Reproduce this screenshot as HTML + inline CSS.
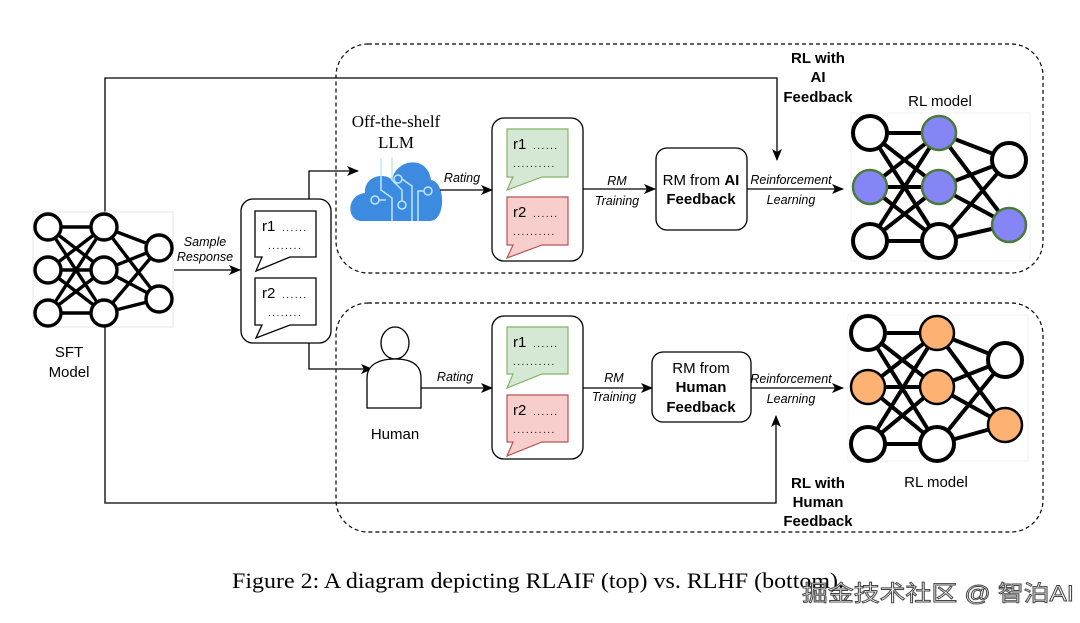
<!DOCTYPE html>
<html><head><meta charset="utf-8"><style>
html,body{margin:0;padding:0;background:#fff;}
svg{display:block;}
.s{font-family:"Liberation Sans",sans-serif;}
.i{font-family:"Liberation Sans",sans-serif;font-style:italic;font-size:12.5px;}
.d{font-family:"Liberation Sans",sans-serif;font-size:10px;letter-spacing:1.5px;}
</style></head><body>
<svg width="1080" height="623" viewBox="0 0 1080 623" xmlns="http://www.w3.org/2000/svg">
<defs>
<marker id="a" markerWidth="12" markerHeight="10" refX="11" refY="5" orient="auto" markerUnits="userSpaceOnUse"><path d="M0,0 L12,5 L0,10 L3,5 Z" fill="#000"/></marker>
</defs>
<rect x="336" y="44" width="707" height="229" rx="32" fill="none" stroke="#000" stroke-width="1.2" stroke-dasharray="4,3"/>
<rect x="336" y="303" width="707" height="229" rx="32" fill="none" stroke="#000" stroke-width="1.2" stroke-dasharray="4,3"/>

<polyline points="105,212 105,78 777,78 777,160" fill="none" stroke="#000" stroke-width="1.3" marker-end="url(#a)"/>
<polyline points="105,327 105,503 776,503 776,416" fill="none" stroke="#000" stroke-width="1.3" marker-end="url(#a)"/>

<rect x="33" y="212" width="140" height="115" fill="#fff" stroke="#e4e4e4"/>
<g stroke="#000" stroke-width="3.4" fill="none">
<line x1="48" y1="227" x2="104" y2="227"/><line x1="48" y1="227" x2="104" y2="270"/><line x1="48" y1="227" x2="104" y2="313"/>
<line x1="48" y1="270" x2="104" y2="227"/><line x1="48" y1="270" x2="104" y2="270"/><line x1="48" y1="270" x2="104" y2="313"/>
<line x1="48" y1="313" x2="104" y2="227"/><line x1="48" y1="313" x2="104" y2="270"/><line x1="48" y1="313" x2="104" y2="313"/>
<line x1="104" y1="227" x2="159" y2="248"/><line x1="104" y1="227" x2="159" y2="299"/>
<line x1="104" y1="270" x2="159" y2="248"/><line x1="104" y1="270" x2="159" y2="299"/>
<line x1="104" y1="313" x2="159" y2="248"/><line x1="104" y1="313" x2="159" y2="299"/>
</g>
<g stroke="#000" stroke-width="3.4" fill="#fff">
<circle cx="48" cy="227" r="13"/><circle cx="48" cy="270" r="13"/><circle cx="48" cy="313" r="13"/>
<circle cx="104" cy="227" r="13"/><circle cx="104" cy="270" r="13"/><circle cx="104" cy="313" r="13"/>
<circle cx="159" cy="248" r="13"/><circle cx="159" cy="299" r="13"/>
</g>
<text class="s" x="69" y="357" font-size="15" text-anchor="middle">SFT</text>
<text class="s" x="69" y="377" font-size="15" text-anchor="middle">Model</text>

<line x1="174" y1="270" x2="240" y2="270" stroke="#000" stroke-width="1.3" marker-end="url(#a)"/>
<text class="i" x="205" y="246" text-anchor="middle" font-size="12">Sample</text>
<text class="i" x="205" y="261" text-anchor="middle" font-size="12">Response</text>

<rect x="241" y="199" width="90" height="144" rx="12" fill="#fff" stroke="#000" stroke-width="1.3"/>
<path d="M255,211 H316 V257 H290 L256,271 L262,257 H255 Z" fill="#fff" stroke="#000" stroke-width="1.3"/>
<path d="M255,278 H316 V325 H290 L256,338 L262,325 H255 Z" fill="#fff" stroke="#000" stroke-width="1.3"/>
<text class="s" x="262" y="231" font-size="15">r1</text><text class="d" x="282" y="231">......</text>
<text class="d" x="268" y="249">........</text>
<text class="s" x="262" y="298" font-size="15">r2</text><text class="d" x="282" y="298">......</text>
<text class="d" x="268" y="316">........</text>
<polyline points="309,199 309,171 358,171" fill="none" stroke="#000" stroke-width="1.3" marker-end="url(#a)"/>
<polyline points="309,343 309,369 372,369" fill="none" stroke="#000" stroke-width="1.3" marker-end="url(#a)"/>

<text x="396" y="127" font-family="Liberation Serif,serif" font-size="17" text-anchor="middle">Off-the-shelf</text>
<text x="396" y="148" font-family="Liberation Serif,serif" font-size="17" text-anchor="middle">LLM</text>
<path d="M362,221 C346,221 346,195 365,193 C364,176 384,172 392,180 C396,158 428,155 431,180 C446,182 446,221 430,221 Z" fill="#3d8be0"/>
<g stroke="#bfe6ff" stroke-width="1.5" fill="none">
<polyline points="381,158 381,190 392,198 392,221"/><polyline points="392,157 392,180 402,190 402,201"/>
<circle cx="402" cy="205" r="4"/><polyline points="402,179 412,186 412,221"/>
<circle cx="398" cy="179" r="4"/><circle cx="375" cy="200" r="4"/><line x1="379" y1="200" x2="386" y2="200"/>
<circle cx="428" cy="191" r="4"/><polyline points="424,191 418,191 418,221"/>
</g>
<line x1="440" y1="190" x2="492" y2="190" stroke="#000" stroke-width="1.3" marker-end="url(#a)"/>
<text class="i" x="462" y="182" text-anchor="middle">Rating</text>

<rect x="492" y="118" width="91" height="143" rx="12" fill="#fff" stroke="#000" stroke-width="1.3"/>
<path d="M507,129 H568 V177 H542 L507,190 L513,177 H507 Z" fill="#d5e8d4" stroke="#82b366" stroke-width="1.2"/>
<path d="M507,197 H568 V245 H542 L507,258 L513,245 H507 Z" fill="#f8cecc" stroke="#b85450" stroke-width="1.2"/>
<text class="s" x="513" y="149" font-size="15">r1</text><text class="d" x="533" y="149">......</text>
<text class="d" x="513" y="167">..........</text>
<text class="s" x="513" y="217" font-size="15">r2</text><text class="d" x="533" y="217">......</text>
<text class="d" x="513" y="235">..........</text>
<line x1="583" y1="189" x2="655" y2="189" stroke="#000" stroke-width="1.3" marker-end="url(#a)"/>
<text class="i" x="617" y="185" text-anchor="middle">RM</text>
<text class="i" x="617" y="205" text-anchor="middle">Training</text>
<rect x="656" y="148" width="91" height="82" rx="11" fill="#fff" stroke="#000" stroke-width="1.3"/>
<text class="s" x="701" y="185" font-size="15" text-anchor="middle">RM from <tspan font-weight="bold">AI</tspan></text>
<text class="s" x="701" y="204" font-size="15" font-weight="bold" text-anchor="middle">Feedback</text>
<line x1="747" y1="189" x2="843" y2="189" stroke="#000" stroke-width="1.3" marker-end="url(#a)"/>
<text class="i" x="791" y="184" text-anchor="middle" font-size="11.5">Reinforcement</text>
<text class="i" x="791" y="204" text-anchor="middle" font-size="11.5">Learning</text>
<text class="s" x="818" y="63" font-size="15" font-weight="bold" text-anchor="middle">RL with</text>
<text class="s" x="818" y="82" font-size="15" font-weight="bold" text-anchor="middle">AI</text>
<text class="s" x="818" y="102" font-size="15" font-weight="bold" text-anchor="middle">Feedback</text>
<text class="s" x="940" y="106" font-size="15" text-anchor="middle">RL model</text>

<rect x="851" y="113" width="179" height="148" fill="#fff" stroke="#f2f2f2"/>
<g stroke="#000" stroke-width="4" fill="none">
<line x1="870" y1="133" x2="939" y2="133"/><line x1="870" y1="133" x2="939" y2="187"/><line x1="870" y1="133" x2="939" y2="241"/>
<line x1="870" y1="187" x2="939" y2="133"/><line x1="870" y1="187" x2="939" y2="187"/><line x1="870" y1="187" x2="939" y2="241"/>
<line x1="870" y1="241" x2="939" y2="133"/><line x1="870" y1="241" x2="939" y2="187"/><line x1="870" y1="241" x2="939" y2="241"/>
<line x1="939" y1="133" x2="1009" y2="160"/><line x1="939" y1="133" x2="1009" y2="225"/>
<line x1="939" y1="187" x2="1009" y2="160"/><line x1="939" y1="187" x2="1009" y2="225"/>
<line x1="939" y1="241" x2="1009" y2="160"/><line x1="939" y1="241" x2="1009" y2="225"/>
</g>
<g stroke="#000" stroke-width="4" fill="#fff">
<circle cx="870" cy="133" r="17"/><circle cx="870" cy="241" r="17"/><circle cx="939" cy="241" r="17"/><circle cx="1009" cy="160" r="17"/>
</g>
<g stroke="#4a7a3a" stroke-width="2.5" fill="#8585f5">
<circle cx="939" cy="133" r="17"/><circle cx="870" cy="187" r="17"/><circle cx="939" cy="187" r="17"/><circle cx="1009" cy="225" r="17"/>
</g>

<ellipse cx="395" cy="343" rx="14" ry="16" fill="#fff" stroke="#000" stroke-width="1.3"/>
<path d="M367,408 V378 C367,364 380,359 395,359 C410,359 421,364 421,378 V408 Z" fill="#fff" stroke="#000" stroke-width="1.3"/>
<text class="s" x="395" y="439" font-size="15" text-anchor="middle">Human</text>
<line x1="421" y1="388" x2="492" y2="388" stroke="#000" stroke-width="1.3" marker-end="url(#a)"/>
<text class="i" x="455" y="381" text-anchor="middle">Rating</text>

<rect x="492" y="316" width="91" height="143" rx="12" fill="#fff" stroke="#000" stroke-width="1.3"/>
<path d="M507,327 H568 V374 H542 L507,388 L513,374 H507 Z" fill="#d5e8d4" stroke="#82b366" stroke-width="1.2"/>
<path d="M507,395 H568 V442 H542 L507,456 L513,442 H507 Z" fill="#f8cecc" stroke="#b85450" stroke-width="1.2"/>
<text class="s" x="513" y="347" font-size="15">r1</text><text class="d" x="533" y="347">......</text>
<text class="d" x="513" y="365">..........</text>
<text class="s" x="513" y="415" font-size="15">r2</text><text class="d" x="533" y="415">......</text>
<text class="d" x="513" y="433">..........</text>
<line x1="583" y1="388" x2="652" y2="388" stroke="#000" stroke-width="1.3" marker-end="url(#a)"/>
<text class="i" x="614" y="382" text-anchor="middle">RM</text>
<text class="i" x="614" y="401" text-anchor="middle">Training</text>
<rect x="652" y="352" width="99" height="70" rx="11" fill="#fff" stroke="#000" stroke-width="1.3"/>
<text class="s" x="701" y="373" font-size="15" text-anchor="middle">RM from</text>
<text class="s" x="701" y="392" font-size="15" font-weight="bold" text-anchor="middle">Human</text>
<text class="s" x="701" y="412" font-size="15" font-weight="bold" text-anchor="middle">Feedback</text>
<line x1="751" y1="388" x2="843" y2="388" stroke="#000" stroke-width="1.3" marker-end="url(#a)"/>
<text class="i" x="791" y="383" text-anchor="middle" font-size="11.5">Reinforcement</text>
<text class="i" x="791" y="403" text-anchor="middle" font-size="11.5">Learning</text>
<text class="s" x="818" y="488" font-size="15" font-weight="bold" text-anchor="middle">RL with</text>
<text class="s" x="818" y="507" font-size="15" font-weight="bold" text-anchor="middle">Human</text>
<text class="s" x="818" y="526" font-size="15" font-weight="bold" text-anchor="middle">Feedback</text>
<text class="s" x="936" y="487" font-size="15" text-anchor="middle">RL model</text>

<rect x="848" y="315" width="180" height="146" fill="#fff" stroke="#f2f2f2"/>
<g stroke="#000" stroke-width="4" fill="none">
<line x1="868" y1="333" x2="937" y2="333"/><line x1="868" y1="333" x2="937" y2="387"/><line x1="868" y1="333" x2="937" y2="444"/>
<line x1="868" y1="387" x2="937" y2="333"/><line x1="868" y1="387" x2="937" y2="387"/><line x1="868" y1="387" x2="937" y2="444"/>
<line x1="868" y1="444" x2="937" y2="333"/><line x1="868" y1="444" x2="937" y2="387"/><line x1="868" y1="444" x2="937" y2="444"/>
<line x1="937" y1="333" x2="1005" y2="360"/><line x1="937" y1="333" x2="1005" y2="425"/>
<line x1="937" y1="387" x2="1005" y2="360"/><line x1="937" y1="387" x2="1005" y2="425"/>
<line x1="937" y1="444" x2="1005" y2="360"/><line x1="937" y1="444" x2="1005" y2="425"/>
</g>
<g stroke="#000" stroke-width="4" fill="#fff">
<circle cx="868" cy="333" r="17"/><circle cx="868" cy="444" r="17"/><circle cx="937" cy="444" r="17"/><circle cx="1005" cy="360" r="17"/>
</g>
<g stroke="#000" stroke-width="2.5" fill="#fdb172">
<circle cx="937" cy="333" r="17"/><circle cx="868" cy="387" r="17"/><circle cx="937" cy="387" r="17"/><circle cx="1005" cy="425" r="17"/>
</g>

<text x="232" y="588" font-family="Liberation Serif,serif" font-size="22" textLength="612" lengthAdjust="spacingAndGlyphs">Figure 2: A diagram depicting RLAIF (top) vs. RLHF (bottom).</text>
<text x="802" y="601" font-family="Liberation Sans,Noto Sans CJK SC,sans-serif" font-size="22" fill="#f6f6f6" stroke="#444" stroke-width="0.9" textLength="272" lengthAdjust="spacingAndGlyphs">掘金技术社区 @ 智泊AI</text>
</svg>
</body></html>
